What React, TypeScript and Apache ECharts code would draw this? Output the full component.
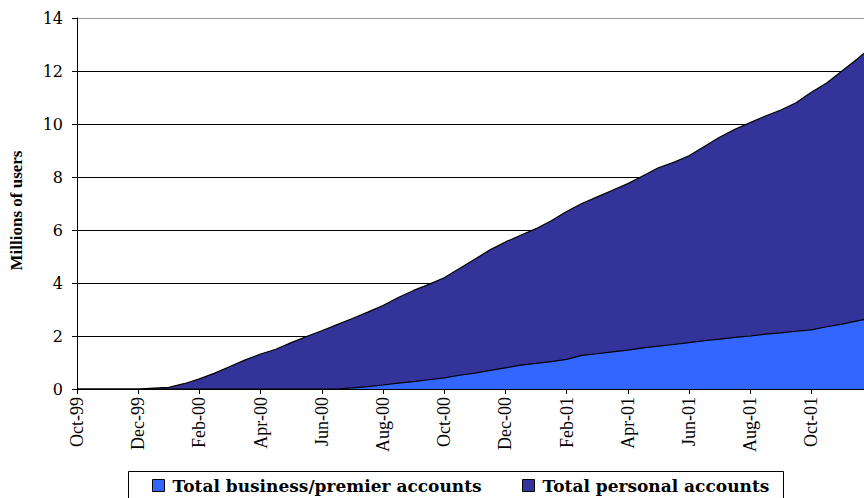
import React, { useEffect, useRef } from "react";
import * as echarts from "echarts";

// x positions in months since Oct-99 (0 = Oct-99)
const months = [
  0, 0.5, 1, 1.5, 2, 2.5, 3, 3.5, 4, 4.5, 5, 5.5, 6, 6.5, 7, 7.5, 8, 8.5, 9, 9.5,
  10, 10.5, 11, 11.5, 12, 12.5, 13, 13.5, 14, 14.5, 15, 15.5, 16, 16.5, 17, 17.5,
  18, 18.5, 19, 19.5, 20, 20.5, 21, 21.5, 22, 22.5, 23, 23.5, 24, 24.5, 25, 25.5, 25.72,
];

// total users (millions) = business + personal, top of the stack
const totalUsers = [
  0, 0, 0, 0, 0, 0.03, 0.06, 0.2, 0.38, 0.6, 0.85, 1.1, 1.32, 1.5, 1.75, 1.98, 2.2, 2.43, 2.66, 2.9,
  3.15, 3.45, 3.72, 3.95, 4.2, 4.55, 4.9, 5.25, 5.55, 5.8, 6.05, 6.35, 6.7, 7.0, 7.25, 7.5,
  7.75, 8.05, 8.35, 8.55, 8.8, 9.15, 9.5, 9.8, 10.05, 10.3, 10.53, 10.8, 11.2, 11.55, 12.0, 12.45, 12.67,
];

// business/premier accounts (millions)
const businessAccounts = [
  0, 0, 0, 0, 0, 0, 0, 0, 0, 0, 0, 0, 0, 0, 0, 0, 0, 0, 0.04, 0.09,
  0.15, 0.22, 0.28, 0.35, 0.42, 0.52, 0.6, 0.7, 0.8, 0.9, 0.97, 1.03, 1.12, 1.27, 1.33, 1.4,
  1.47, 1.55, 1.62, 1.68, 1.75, 1.82, 1.88, 1.95, 2.0, 2.07, 2.12, 2.18, 2.23, 2.35, 2.45, 2.57, 2.62,
];

const tickLabels = [
  "Oct-99", "Dec-99", "Feb-00", "Apr-00", "Jun-00", "Aug-00", "Oct-00",
  "Dec-00", "Feb-01", "Apr-01", "Jun-01", "Aug-01", "Oct-01",
];

const SERIF = "'Liberation Serif', serif";
const WIDE_SERIF = "'DejaVu Serif', serif";
const BUSINESS = "Total business/premier accounts";
const PERSONAL = "Total personal accounts";

const legendBase = {
  top: 477,
  orient: "horizontal",
  icon: "rect",
  itemWidth: 12,
  itemHeight: 12,
  padding: 0,
  itemStyle: { borderColor: "#000", borderWidth: 1 },
  textStyle: { fontFamily: WIDE_SERIF, fontWeight: "bold", fontSize: 17, color: "#000", padding: [0, 0, 0, 3] },
};

export default function App() {
  const ref = useRef<HTMLDivElement>(null);

  useEffect(() => {
    document.body.style.margin = "0";
    if (!ref.current) return;
    const chart = echarts.init(ref.current, undefined, { renderer: "svg" });
    chart.setOption({
      animation: false,
      backgroundColor: "#ffffff",
      textStyle: { fontFamily: SERIF },
      grid: { left: 73, top: 18, right: 0, bottom: 109, containLabel: false },
      graphic: [
        {
          type: "rect",
          shape: { x: 128.5, y: 471.5, width: 655, height: 40 },
          style: { fill: "#fff", stroke: "#000", lineWidth: 1 },
          z: 0,
          silent: true,
        },
      ],
      legend: [
        { ...legendBase, left: 152, data: [BUSINESS] },
        { ...legendBase, left: 522, data: [PERSONAL] },
      ],
      xAxis: {
        type: "value",
        min: 0,
        max: 25.72,
        interval: 2,
        splitLine: { show: false },
        axisLine: { show: true, onZero: false, lineStyle: { color: "#000", width: 1 } },
        axisTick: { show: true, length: 5, lineStyle: { color: "#000" } },
        axisLabel: {
          rotate: 90,
          margin: 8,
          fontFamily: SERIF,
          fontSize: 18,
          color: "#000",
          showMaxLabel: false,
          formatter: (v: number) => {
            const i = Math.round(v / 2);
            return Math.abs(v - i * 2) < 1e-6 && tickLabels[i] ? tickLabels[i] : "";
          },
        },
      },
      yAxis: {
        type: "value",
        min: 0,
        max: 14,
        interval: 2,
        name: "Millions of users",
        nameLocation: "middle",
        nameGap: 52,
        nameRotate: 90,
        nameTextStyle: {
          fontFamily: SERIF,
          fontWeight: "bold",
          fontSize: 17,
          color: "#000",
          padding: [0, 14, 0, 0],
        },
        axisLine: { show: true, lineStyle: { color: "#000", width: 1 } },
        axisTick: { show: true, length: 5, lineStyle: { color: "#000" } },
        axisLabel: { fontFamily: WIDE_SERIF, fontSize: 16, color: "#000", margin: 14 },
        splitLine: {
          show: true,
          lineStyle: {
            color: ["#000", "#000", "#000", "#000", "#000", "#000", "#000", "#999"],
            width: 1,
          },
        },
      },
      series: [
        {
          name: BUSINESS,
          type: "line",
          symbol: "none",
          data: months.map((m, i) => [m, businessAccounts[i]]),
          itemStyle: { color: "#3366FF" },
          lineStyle: { color: "#000", width: 1.2 },
          areaStyle: { color: "#3366FF", opacity: 1 },
          z: 3,
        },
        {
          name: PERSONAL,
          type: "line",
          symbol: "none",
          data: months.map((m, i) => [m, totalUsers[i]]),
          itemStyle: { color: "#333399" },
          lineStyle: { color: "#000", width: 1.2 },
          areaStyle: { color: "#333399", opacity: 1 },
          z: 2,
        },
      ],
    });
    return () => chart.dispose();
  }, []);

  return <div ref={ref} style={{ width: 864, height: 498 }} />;
}
